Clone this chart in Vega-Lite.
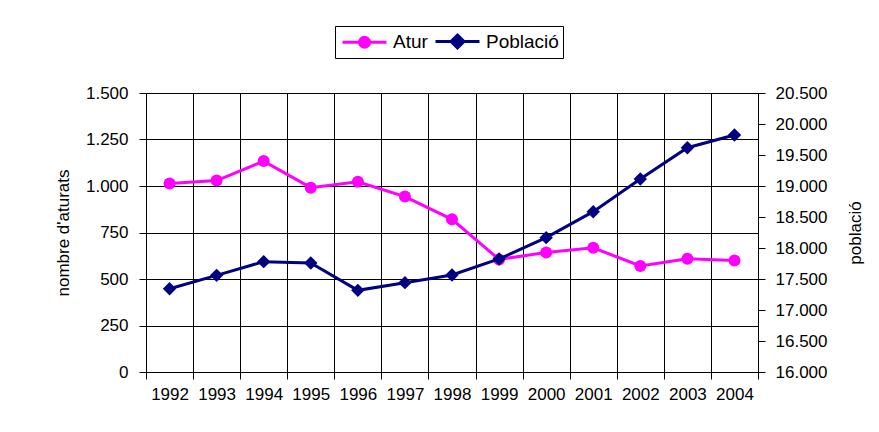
{
  "$schema": "https://vega.github.io/schema/vega-lite/v6.json",
  "width": 612,
  "height": 279,
  "autosize": {"type": "none"},
  "padding": {"left": 146, "top": 93, "right": 121, "bottom": 60},
  "background": "white",
  "config": {
    "font": "Liberation Sans",
    "view": {"stroke": null},
    "axis": {
      "labelFont": "Liberation Sans",
      "labelFontSize": 17,
      "labelColor": "black",
      "titleFont": "Liberation Sans",
      "titleFontSize": 17,
      "titleFontWeight": "normal",
      "titleColor": "black",
      "domainColor": "black",
      "tickColor": "black",
      "gridColor": "black",
      "gridOpacity": 1,
      "domainWidth": 1,
      "tickWidth": 1,
      "gridWidth": 1,
      "tickSize": 7
    },
    "legend": {
      "orient": "none",
      "legendX": 189,
      "legendY": -67,
      "direction": "horizontal",
      "strokeColor": "black",
      "fillColor": "white",
      "padding": 4,
      "labelFont": "Liberation Sans",
      "labelFontSize": 19,
      "labelColor": "black",
      "symbolSize": 400,
      "symbolStrokeWidth": 3,
      "symbolOffset": 14,
      "labelOffset": 17,
      "columnPadding": 1
    }
  },
  "datasets": {
    "atur": [
      {"any": "1992", "serie": "Atur", "valor": 1014},
      {"any": "1993", "serie": "Atur", "valor": 1029},
      {"any": "1994", "serie": "Atur", "valor": 1134},
      {"any": "1995", "serie": "Atur", "valor": 991},
      {"any": "1996", "serie": "Atur", "valor": 1023},
      {"any": "1997", "serie": "Atur", "valor": 943},
      {"any": "1998", "serie": "Atur", "valor": 821},
      {"any": "1999", "serie": "Atur", "valor": 605},
      {"any": "2000", "serie": "Atur", "valor": 643},
      {"any": "2001", "serie": "Atur", "valor": 668},
      {"any": "2002", "serie": "Atur", "valor": 570},
      {"any": "2003", "serie": "Atur", "valor": 609},
      {"any": "2004", "serie": "Atur", "valor": 600}
    ],
    "poblacio": [
      {"any": "1992", "serie": "Població", "valor": 17343},
      {"any": "1993", "serie": "Població", "valor": 17559},
      {"any": "1994", "serie": "Població", "valor": 17780},
      {"any": "1995", "serie": "Població", "valor": 17758},
      {"any": "1996", "serie": "Població", "valor": 17317},
      {"any": "1997", "serie": "Població", "valor": 17441},
      {"any": "1998", "serie": "Població", "valor": 17565},
      {"any": "1999", "serie": "Població", "valor": 17823},
      {"any": "2000", "serie": "Població", "valor": 18167},
      {"any": "2001", "serie": "Població", "valor": 18586},
      {"any": "2002", "serie": "Població", "valor": 19113},
      {"any": "2003", "serie": "Població", "valor": 19618},
      {"any": "2004", "serie": "Població", "valor": 19823}
    ]
  },
  "encoding": {
    "x": {
      "field": "any",
      "type": "ordinal",
      "scale": {"paddingInner": 0, "paddingOuter": 0},
      "axis": {"title": null, "labelAngle": 0, "grid": true, "tickBand": "extent", "labelPadding": 7}
    },
    "color": {
      "field": "serie",
      "type": "nominal",
      "scale": {"domain": ["Atur", "Població"], "range": ["#ff00ff", "#000080"]},
      "legend": {
        "title": null,
        "encode": {
          "symbols": {
            "update": {
              "shape": {"signal": "datum.value === 'Atur' ? 'M-2.2,0L2.2,0M0.5,0A0.5,0.5 0 1,1 -0.5,0A0.5,0.5 0 1,1 0.5,0Z' : 'M-2.2,0L2.2,0M0,-0.65L0.65,0L0,0.65L-0.65,0Z'"},
              "fill": {"signal": "datum.value === 'Atur' ? '#ff00ff' : '#000080'"},
              "stroke": {"signal": "datum.value === 'Atur' ? '#ff00ff' : '#000080'"},
              "strokeWidth": {"value": 3},
              "opacity": {"value": 1},
              "fillOpacity": {"value": 1},
              "strokeOpacity": {"value": 1}
            }
          }
        }
      }
    }
  },
  "layer": [
    {
      "data": {"name": "atur"},
      "mark": {"type": "line", "strokeWidth": 3, "point": {"filled": true, "shape": "circle", "size": 144, "opacity": 1}},
      "encoding": {
        "y": {
          "field": "valor",
          "type": "quantitative",
          "scale": {"domain": [0, 1500], "nice": false, "zero": false},
          "axis": {
            "orient": "left",
            "title": "nombre d'aturats",
            "values": [0, 250, 500, 750, 1000, 1250, 1500],
            "grid": true,
            "labelPadding": 11,
            "titlePadding": 13,
            "labelExpr": "replace(format(datum.value, ','), ',', '.')"
          }
        }
      }
    },
    {
      "data": {"name": "poblacio"},
      "mark": {"type": "line", "strokeWidth": 3, "point": {"filled": true, "shape": "diamond", "size": 180, "opacity": 1}},
      "encoding": {
        "y": {
          "field": "valor",
          "type": "quantitative",
          "scale": {"domain": [16000, 20500], "nice": false, "zero": false},
          "axis": {
            "orient": "right",
            "title": "població",
            "titleAngle": 270,
            "values": [16000, 16500, 17000, 17500, 18000, 18500, 19000, 19500, 20000, 20500],
            "grid": false,
            "labelPadding": 10,
            "titlePadding": 38,
            "labelExpr": "replace(format(datum.value, ','), ',', '.')"
          }
        }
      }
    }
  ],
  "resolve": {"scale": {"y": "independent"}}
}
